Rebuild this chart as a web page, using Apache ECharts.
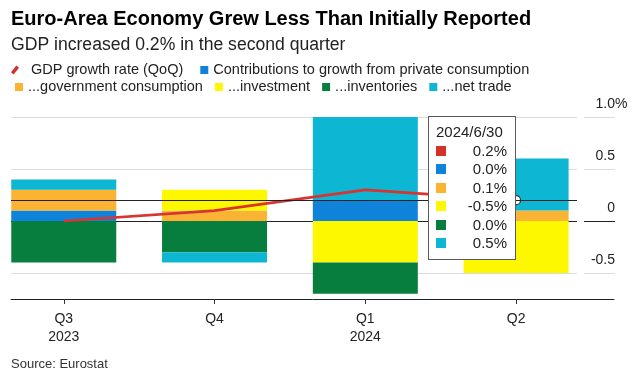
<!DOCTYPE html>
<html>
<head>
<meta charset="utf-8">
<script src="https://cdn.jsdelivr.net/npm/echarts@6/dist/echarts.min.js"></script>
<style>
  html, body { margin: 0; padding: 0; background: #fff; }
  #chart { width: 639px; height: 375px; }
</style>
</head>
<body>
<div id="chart"></div>
<script>
// quarters on the x axis
const quarters = ['Q3', 'Q4', 'Q1', 'Q2']
const years = ['2023', '', '2024', '']
const dates = ['2023/9/30', '2023/12/31', '2024/3/31', '2024/6/30']
const xPos = [0, 1, 2, 3]

// percentage points
const gdpGrowth = [0.0, 0.1, 0.3, 0.2]
const privateConsumption = [0.1, 0.0, 0.2, 0.0]
const governmentConsumption = [0.2, 0.1, 0.0, 0.1]
const investment = [0.0, 0.2, -0.4, -0.5]
const inventories = [-0.4, -0.3, -0.3, 0.0]
const netTrade = [0.1, -0.1, 0.8, 0.5]

const yTicks = [-0.5, 0, 0.5, 1.0]

const FONT = '"Liberation Sans", Arial, Helvetica, sans-serif'
const RED = '#d3312c'
const lineIcon = 'path://M0,7.5L6,0L9,2.5L3,10Z'
const squareIcon = 'path://M0,0H10V10H0Z'

const barSeries = [
  { name: 'Contributions to growth from private consumption', values: privateConsumption, color: '#0f83da' },
  { name: '...government consumption', values: governmentConsumption, color: '#fbb334' },
  { name: '...investment', values: investment, color: '#fdf800' },
  { name: '...inventories', values: inventories, color: '#087e3e' },
  { name: '...net trade', values: netTrade, color: '#0db6d2' }
]
const gdpName = 'GDP growth rate (QoQ)'

const yMin = -0.75
const yMax = 1.0
// one colour per 0.25 step, only the labelled values get a line
const splitColors = ['rgba(0,0,0,0)', '#dcdcdc', 'rgba(0,0,0,0)', '#222', 'rgba(0,0,0,0)', '#dcdcdc', 'rgba(0,0,0,0)', '#dcdcdc']

const fmtPct = (v) => v.toFixed(1) + '%'

const chart = echarts.init(document.getElementById('chart'))

const option = {
  animation: false,
  textStyle: { fontFamily: FONT },
  title: [
    {
      text: 'Euro-Area Economy Grew Less Than Initially Reported',
      left: 11, top: 9, padding: 0,
      textStyle: { fontSize: 20, fontWeight: 'bold', color: '#000', fontFamily: FONT }
    },
    {
      text: 'GDP increased 0.2% in the second quarter',
      left: 11, top: 36, padding: 0,
      textStyle: { fontSize: 17.6, fontWeight: 'normal', color: '#222', fontFamily: FONT }
    },
    {
      text: 'Source: Eurostat',
      left: 11, top: 358, padding: 0,
      textStyle: { fontSize: 13, fontWeight: 'normal', color: '#333', fontFamily: FONT }
    }
  ],
  legend: [
    {
      left: 11, top: 62, padding: 0,
      itemWidth: 8, itemHeight: 10, itemGap: 17,
      selectedMode: false,
      textStyle: { fontSize: 14.5, lineHeight: 16, color: '#222', fontFamily: FONT },
      data: [
        { name: gdpName, icon: lineIcon, itemStyle: { color: RED }, textStyle: { padding: [0, 0, 0, 7] } },
        { name: barSeries[0].name, icon: squareIcon }
      ]
    },
    {
      left: 15, top: 79, padding: 0,
      itemWidth: 8, itemHeight: 8, itemGap: 12,
      selectedMode: false,
      textStyle: { fontSize: 14.5, lineHeight: 16, color: '#222', fontFamily: FONT },
      data: barSeries.slice(1).map((s) => ({ name: s.name, icon: squareIcon }))
    }
  ],
  tooltip: {
    trigger: 'axis',
    triggerOn: 'none',
    alwaysShowContent: true,
    position: [428, 116],
    transitionDuration: 0,
    axisPointer: {
      type: 'cross',
      label: { show: false },
      crossStyle: { color: '#222', width: 1, type: 'solid' }
    },
    backgroundColor: '#fff',
    borderColor: '#5a5a5a',
    borderWidth: 1,
    borderRadius: 0,
    padding: [6, 8, 6, 7],
    extraCssText: 'box-shadow:none;',
    textStyle: { fontFamily: FONT, fontSize: 15, color: '#222' },
    formatter(params) {
      const i = params[0].dataIndex
      const list = [{ values: gdpGrowth, color: RED }].concat(barSeries)
      let html = `<div style="width:71px;line-height:18.5px;font-size:15px;font-family:${FONT}">${dates[i]}`
      list.forEach((s) => {
        html += `<div style="display:flex;justify-content:space-between;align-items:center;height:18.5px">` +
          `<span style="display:inline-block;width:10px;height:10px;background:${s.color}"></span>` +
          `<span>${fmtPct(s.values[i])}</span></div>`
      })
      return html + '</div>'
    }
  },
  grid: [
    { left: 11, right: 62, top: 117, bottom: 76 },
    { left: 584, right: 24, top: 117, bottom: 76 },
    { left: 11, right: 25, top: 117, bottom: 76 }
  ],
  xAxis: [
    {
      gridIndex: 0,
      type: 'value',
      min: -0.35,
      max: 3.404,
      axisLine: { show: false, onZero: false },
      splitLine: { show: false },
      axisTick: { show: true, customValues: xPos, length: 5, lineStyle: { color: '#333' } },
      axisLabel: {
        customValues: xPos,
        margin: 11,
        fontSize: 14,
        lineHeight: 18,
        color: '#222',
        fontFamily: FONT,
        formatter: (v) => quarters[v] + (years[v] ? '\n' + years[v] : '')
      },
      axisPointer: { type: 'none' }
    },
    { gridIndex: 1, type: 'value', show: false, axisPointer: { show: false } },
    {
      gridIndex: 2,
      type: 'value',
      min: 0,
      max: 1,
      axisLine: { show: true, onZero: false, lineStyle: { color: '#222', width: 1 } },
      axisTick: { show: false },
      axisLabel: { show: false },
      splitLine: { show: false },
      axisPointer: { show: false }
    }
  ],
  yAxis: [
    {
      gridIndex: 0,
      type: 'value',
      min: yMin,
      max: yMax,
      interval: 0.25,
      axisLine: { show: false },
      axisTick: { show: false },
      axisLabel: { show: false },
      splitLine: { show: true, lineStyle: { color: splitColors, width: 1 } },
      axisPointer: { label: { show: false } }
    },
    {
      gridIndex: 1,
      type: 'value',
      position: 'right',
      min: yMin,
      max: yMax,
      interval: 0.25,
      axisLine: { show: false },
      axisTick: { show: false },
      splitLine: { show: true, lineStyle: { color: splitColors, width: 1 } },
      axisLabel: {
        inside: true,
        margin: 0,
        fontSize: 14,
        lineHeight: 14,
        color: '#222',
        fontFamily: FONT,
        verticalAlign: 'bottom',
        padding: [0, 0, 6, 0],
        formatter(v) {
          const t = yTicks.find((k) => Math.abs(k - v) < 1e-6)
          if (t === undefined) return ''
          if (t === yMax) return '{n|' + t.toFixed(1) + '}{p|%}'
          return t === 0 ? '0' : String(t)
        },
        rich: {
          n: { fontSize: 14, lineHeight: 14, color: '#222', fontFamily: FONT, align: 'left' },
          p: { fontSize: 14, lineHeight: 14, color: '#222', fontFamily: FONT, align: 'left', width: 0 }
        }
      },
      axisPointer: { show: false }
    },
    { gridIndex: 2, type: 'value', min: yMin, max: yMax, show: false, axisPointer: { show: false } }
  ],
  series: [
    {
      name: gdpName,
      type: 'line',
      xAxisIndex: 0,
      yAxisIndex: 0,
      z: 5,
      data: xPos.map((x, i) => [x, gdpGrowth[i]]),
      showSymbol: false,
      symbol: 'circle',
      symbolSize: 9,
      itemStyle: { color: RED },
      lineStyle: { color: '#c5302e', width: 2.7 },
      emphasis: {
        scale: false,
        itemStyle: { color: '#fff', borderColor: '#333', borderWidth: 1.2 },
        lineStyle: { width: 2.7 }
      }
    }
  ].concat(barSeries.map((s) => ({
    name: s.name,
    type: 'bar',
    xAxisIndex: 0,
    yAxisIndex: 0,
    stack: 'contrib',
    barWidth: 105,
    // value first so the stack sums the y dimension
    encode: { x: 1, y: 0 },
    data: xPos.map((x, i) => [s.values[i], x]),
    itemStyle: { color: s.color },
    emphasis: { disabled: true }
  })))
}

chart.setOption(option)
chart.dispatchAction({ type: 'showTip', seriesIndex: 0, dataIndex: 3 })
</script>
</body>
</html>
